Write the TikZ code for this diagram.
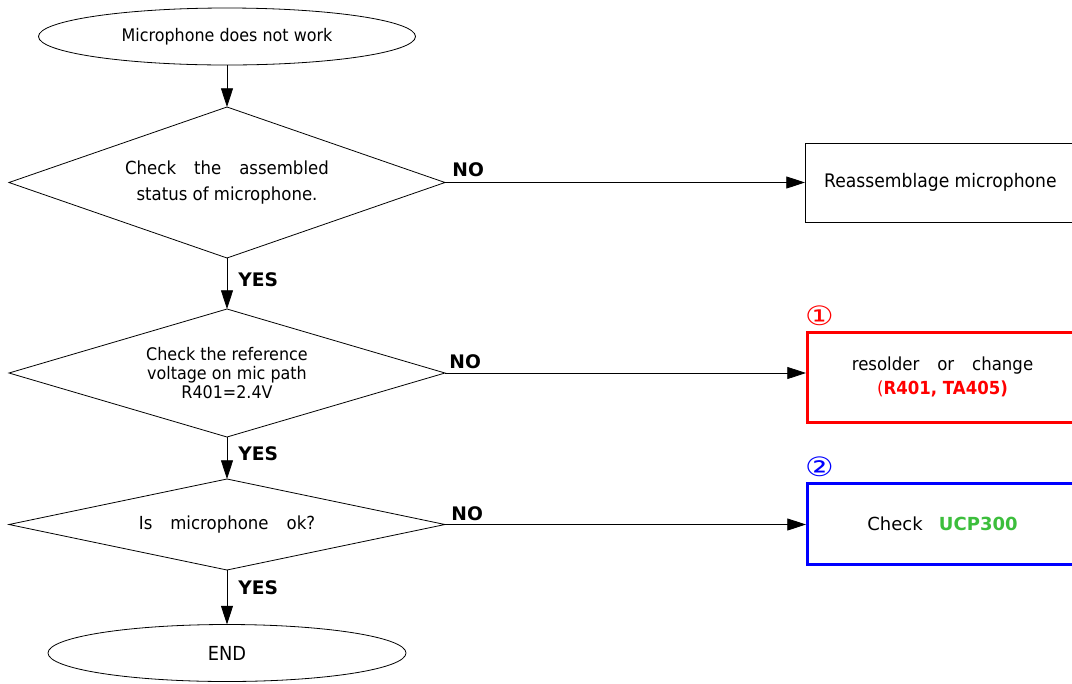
\documentclass[tikz,border=0pt]{standalone}
\usepackage{fontspec}
\setmainfont{DejaVu Sans}
\newfontfamily\narrowfont[FakeStretch=0.92]{DejaVu Sans}
\newfontfamily\circfont[FakeStretch=1.2]{DejaVu Sans}
\usetikzlibrary{shapes.geometric,arrows.meta}
\definecolor{okgreen}{RGB}{60,190,60}
\newcommand\widesp[1][1em]{\spaceskip=#1\relax}

\begin{document}
\begin{tikzpicture}[x=0.75pt,y=-0.75pt,line width=0.6pt,
        wide/.style={font=\narrowfont\fontsize{13.5}{19.5}\selectfont},
        narrow/.style={font=\narrowfont\fontsize{13}{14}\selectfont},
        term/.style={draw, ellipse, inner sep=0pt, outer sep=0pt, minimum width=#1, minimum height=42.75pt, narrow},
        test/.style={draw, diamond, inner sep=0pt, outer sep=0pt, align=center, minimum width=327pt},
        fixbox/.style={draw, rectangle, anchor=west, minimum width=202.5pt, align=center},
        lbl/.style={font=\fontsize{14}{14}\selectfont\bfseries, anchor=west, inner sep=0pt},
        num/.style={font=\circfont\fontsize{20}{20}\selectfont},
        arr/.style={-{Triangle[length=14pt,width=9pt]}}]
    \clip (0,0) rectangle (1072,683);

    \node[term=282.75pt] (start) at (227,36.5) {Microphone does not work};
    \node[test, aspect=2.9, minimum height=113.25pt, wide] (d1) at (227,182.5) {\widesp Check the assembled\\status of microphone.};
    \node[test, aspect=3.4, minimum height=96pt, narrow] (d2) at (227,373) {Check the reference\\voltage on mic path\\R401=2.4V};
    \node[test, aspect=4.8, minimum height=68.25pt, wide] (d3) at (227,524.5) {\widesp Is microphone ok?};
    \node[term=268.5pt, font=\narrowfont\fontsize{14.5}{16}\selectfont] (end) at (227,653) {END};

    \node[fixbox, minimum height=59.25pt, font=\narrowfont\fontsize{14}{16}\selectfont] (fix1) at (805,182.5) {Reassemblage microphone};
    \node[fixbox, minimum height=67.5pt, draw=red, line width=2.25pt, font=\narrowfont\fontsize{13.5}{18}\selectfont] (fix2) at (806,377)
        {\widesp resolder or change\\{\color{red}(\widesp[0pt]\bfseries R401, TA405)}};
    \node[fixbox, minimum height=60.75pt, draw=blue, line width=2.25pt, font=\fontsize{13.5}{16}\selectfont] (fix3) at (806,523.5)
        {Check\hspace{0.9em}\textcolor{okgreen}{\bfseries UCP300}};

    \node[num, text=red] (mark1) at (819.5,316) {①};
    \node[num, text=blue] (mark2) at (819.5,466.5) {②};

    \node[lbl] (no1) at (452,170) {NO};
    \node[lbl] (no2) at (449,362) {NO};
    \node[lbl] (no3) at (451,514) {NO};
    \node[lbl] (yes1) at (238,279.5) {YES};
    \node[lbl] (yes2) at (238,454) {YES};
    \node[lbl] (yes3) at (238,588) {YES};

    \draw[arr] (start) -- (d1);
    \draw[arr] (d1) -- (d2);
    \draw[arr] (d2) -- (d3);
    \draw[arr] (d3) -- (end);
    \draw[arr] (d1) -- (fix1);
    \draw[arr] (d2.east) -- (d2.east -| fix2.west);
    \draw[arr] (d3.east) -- (d3.east -| fix3.west);
\end{tikzpicture}
\end{document}
